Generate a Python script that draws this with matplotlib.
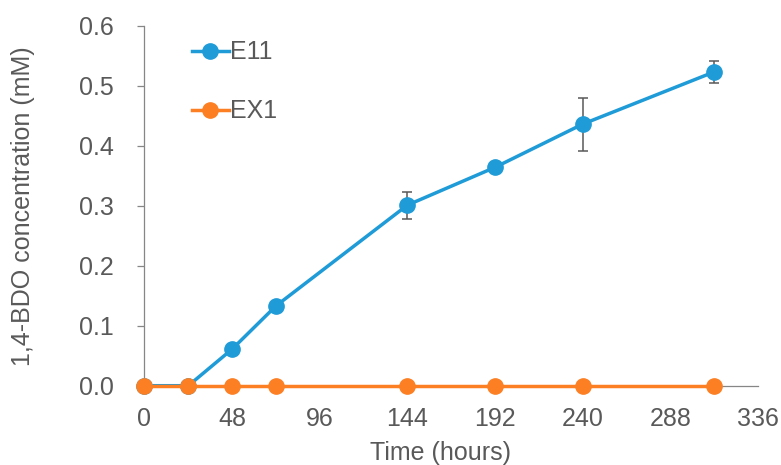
import numpy as np
import matplotlib
matplotlib.use('Agg')
import matplotlib.pyplot as plt

plt.rcParams['font.family'] = ['Liberation Sans', 'DejaVu Sans']

# Данные
time_h = [0, 24, 48, 72, 144, 192, 240, 312]
e11 = [0.0, 0.0, 0.061, 0.133, 0.301, 0.364, 0.436, 0.523]
e11_err = [0.0, 0.0, 0.0, 0.0, 0.0225, 0.0, 0.044, 0.018]
ex1 = [0.0, 0.0, 0.0, 0.0, 0.0, 0.0, 0.0, 0.0]

x_ticks = [0, 48, 96, 144, 192, 240, 288, 336]
y_ticks = [0.0, 0.1, 0.2, 0.3, 0.4, 0.5, 0.6]

blue = '#1F9BD7'
orange = '#FD7F23'
gray = '#868686'
text_col = '#595959'

fig = plt.figure(figsize=(7.81, 4.65), dpi=100)
ax = fig.add_axes([0.185, 0.1705, 0.7855, 0.7742])

# Планки погрешностей под маркерами
ax.errorbar(time_h, e11, yerr=e11_err, fmt='none', ecolor=text_col,
            elinewidth=1.1, capsize=3.5, capthick=1.1, zorder=2, clip_on=False)
ax.plot(time_h, e11, color=blue, lw=2.5, marker='o', ms=11, label='E11',
        zorder=3, clip_on=False)
ax.plot(time_h, ex1, color=orange, lw=2.5, marker='o', ms=11, label='EX1',
        zorder=4, clip_on=False)

ax.set_xlim(0, 336)
ax.set_ylim(0, 0.6)
ax.set_xticks(x_ticks)
ax.set_yticks(y_ticks)
ax.set_yticklabels(['%.1f' % v for v in y_ticks])

for s in ['top', 'right']:
    ax.spines[s].set_visible(False)
for s in ['left', 'bottom']:
    ax.spines[s].set_color(gray)
    ax.spines[s].set_linewidth(0.9)

ax.tick_params(axis='x', length=0, pad=15.5, labelsize=18, labelcolor=text_col)
ax.tick_params(axis='y', length=5, width=0.9, color=gray, pad=17,
               labelsize=18, labelcolor=text_col)

ax.set_xlabel('Time (hours)', fontsize=18, color=text_col)
ax.set_ylabel('1,4-BDO concentration (mM)', fontsize=18, color=text_col)
ax.xaxis.set_label_coords(0.483, -0.153)
ax.yaxis.set_label_coords(-0.178, 0.5)

leg = ax.legend(loc='upper left', bbox_to_anchor=(0.04, 1.022), frameon=False,
                fontsize=18, handlelength=1.5, handletextpad=0.05,
                labelspacing=1.4, labelcolor=text_col)

plt.savefig('out.png', dpi=100)
